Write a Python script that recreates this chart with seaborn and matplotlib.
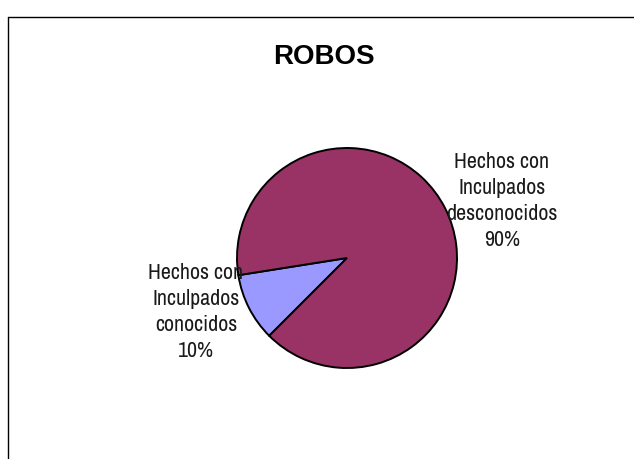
import matplotlib
matplotlib.use("Agg")
import matplotlib.pyplot as plt
import seaborn as sns

# data
categorias = ["Hechos con\nInculpados\nconocidos", "Hechos con\nInculpados\ndesconocidos"]
porcentajes = [10, 90]
colores = ["#9999FF", "#993366"]

sns.set_theme(style="white")
plt.rcParams['font.family'] = ['Liberation Sans Narrow', 'Archivo Narrow', 'DejaVu Sans']

W, H = 634, 459
fig = plt.figure(figsize=(W / 100, H / 100), dpi=100)
ax = fig.add_axes([0, 0, 1, 1])

# pie, Excel style: center (347, 258) px, radius 110 px
ax.pie(porcentajes, colors=colores, startangle=189, counterclock=True,
       center=(347, H - 258), radius=110,
       wedgeprops=dict(edgecolor="black", linewidth=1.4))
ax.set_xlim(0, W)
ax.set_ylim(0, H)
ax.set_aspect('auto')
ax.axis('off')

# labels
posiciones = [(196, H - 312), (502, H - 201)]
for nombre, pct, (x, y) in zip(categorias, porcentajes, posiciones):
    ax.text(x, y, f"{nombre}\n{pct}%", ha='center', va='center',
            fontsize=15.8, linespacing=1.38, color='#1a1a1a')

ax.text(324, H - 57, "ROBOS", ha='center', va='center', fontsize=20,
        fontweight='bold', family=['Liberation Sans', 'DejaVu Sans'], color='black')

# chart frame (left and top edges)
fig.add_artist(plt.Line2D([8 / W, 8 / W], [0, 1 - 17 / H], color='black', lw=1))
fig.add_artist(plt.Line2D([8 / W, 1], [1 - 17 / H, 1 - 17 / H], color='black', lw=1))

fig.savefig("out.png", dpi=100)
